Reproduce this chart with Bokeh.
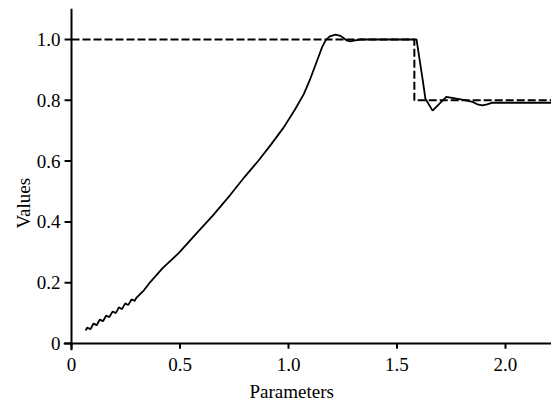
from bokeh.plotting import figure
from bokeh.models import FixedTicker, Range1d, Span, Title
from bokeh.embed import file_html
from bokeh.resources import INLINE

# reference (dashed) step
ref_x = [0.0, 1.58, 1.58, 2.212]
ref_y = [1.0, 1.0, 0.8, 0.8]

# response (solid)
resp_x = [0.065, 0.0723, 0.0796, 0.0869, 0.0942, 0.1015, 0.1088, 0.1161, 0.1234,
          0.1307, 0.1380, 0.1453, 0.1526, 0.1599, 0.1672, 0.1745, 0.1818, 0.1891,
          0.1964, 0.2037, 0.2110, 0.2183, 0.2256, 0.2329, 0.2402, 0.2475, 0.2548,
          0.2621, 0.2694, 0.2767, 0.2840, 0.2913, 0.2986,
          0.33, 0.364, 0.42, 0.495, 0.579, 0.65, 0.733, 0.80, 0.862, 0.92, 0.978,
          1.03, 1.071, 1.10, 1.132, 1.155, 1.171, 1.19, 1.217, 1.24, 1.255, 1.27,
          1.286, 1.30, 1.332, 1.59, 1.605, 1.62, 1.631, 1.664, 1.727, 1.80, 1.848,
          1.87, 1.894, 1.915, 1.94, 2.212]
resp_y = [0.043, 0.052, 0.050, 0.047, 0.056, 0.066, 0.063, 0.060, 0.070,
          0.079, 0.076, 0.073, 0.083, 0.092, 0.089, 0.087, 0.096, 0.105,
          0.103, 0.100, 0.109, 0.119, 0.116, 0.113, 0.123, 0.132, 0.129,
          0.127, 0.136, 0.145, 0.143, 0.140, 0.150,
          0.172, 0.203, 0.248, 0.298, 0.365, 0.42, 0.49, 0.55, 0.602, 0.655, 0.711,
          0.77, 0.821, 0.87, 0.931, 0.975, 0.997, 1.010, 1.016, 1.012, 1.004, 0.996,
          0.994, 0.996, 1.0, 1.0, 0.93, 0.86, 0.805, 0.766, 0.811, 0.802, 0.795,
          0.787, 0.783, 0.787, 0.792, 0.792]

x_ticks = [0, 0.5, 1.0, 1.5, 2.0]
y_ticks = [0, 0.2, 0.4, 0.6, 0.8, 1.0]
x_title = "Parameters"
y_title = "Values"

FONT = "Liberation Serif"
X0, X1 = -0.0369, 2.212
Y0, Y1 = -0.023, 1.102

p = figure(width=551, height=408, output_backend="svg", toolbar_location=None,
           x_range=Range1d(X0, X1), y_range=Range1d(Y0, Y1),
           min_border_left=63, min_border_right=0, min_border_top=8,
           min_border_bottom=58)
p.outline_line_color = None
p.grid.visible = False
p.background_fill_color = "white"
p.border_fill_color = "white"

p.line(ref_x, ref_y, line_color="black", line_width=2, line_dash="8 3")
p.line(resp_x, resp_y, line_color="black", line_width=1.8)

# axis lines through the origin
p.add_layout(Span(location=0, dimension="width", line_color="black", line_width=2))
p.add_layout(Span(location=0, dimension="height", line_color="black", line_width=2))
# tick marks pointing outward from the origin axes
p.segment(x0=x_ticks, y0=[0] * len(x_ticks), x1=x_ticks, y1=[-0.017] * len(x_ticks),
          line_color="black", line_width=2)
p.segment(x0=[0] * len(y_ticks), y0=y_ticks, x1=[-0.032] * len(y_ticks), y1=y_ticks,
          line_color="black", line_width=2)

for ax, ticks in ((p.xaxis[0], x_ticks), (p.yaxis[0], y_ticks)):
    ax.ticker = FixedTicker(ticks=ticks)
    ax.minor_tick_line_color = None
    ax.major_tick_line_color = None
    ax.major_tick_in = 0
    ax.major_tick_out = 0
    ax.axis_line_color = None
    ax.major_label_text_font = FONT
    ax.major_label_text_font_size = "19px"
    ax.major_label_text_color = "black"

p.xaxis[0].major_label_overrides = {0: "0", 0.5: "0.5", 1.0: "1.0", 1.5: "1.5", 2.0: "2.0"}
p.yaxis[0].major_label_overrides = {0: "0", 0.2: "0.2", 0.4: "0.4", 0.6: "0.6", 0.8: "0.8", 1.0: "1.0"}
p.xaxis[0].major_label_standoff = 7
p.yaxis[0].major_label_standoff = 3

p.add_layout(Title(text=x_title, align="left", offset=186, text_font=FONT,
                   text_font_size="19px", text_font_style="normal",
                   text_color="black", standoff=10), "below")
p.add_layout(Title(text=y_title, align="left", offset=122, text_font=FONT,
                   text_font_size="19px", text_font_style="normal",
                   text_color="black", standoff=0), "left")

open("out.html", "w").write(file_html(p, INLINE))
